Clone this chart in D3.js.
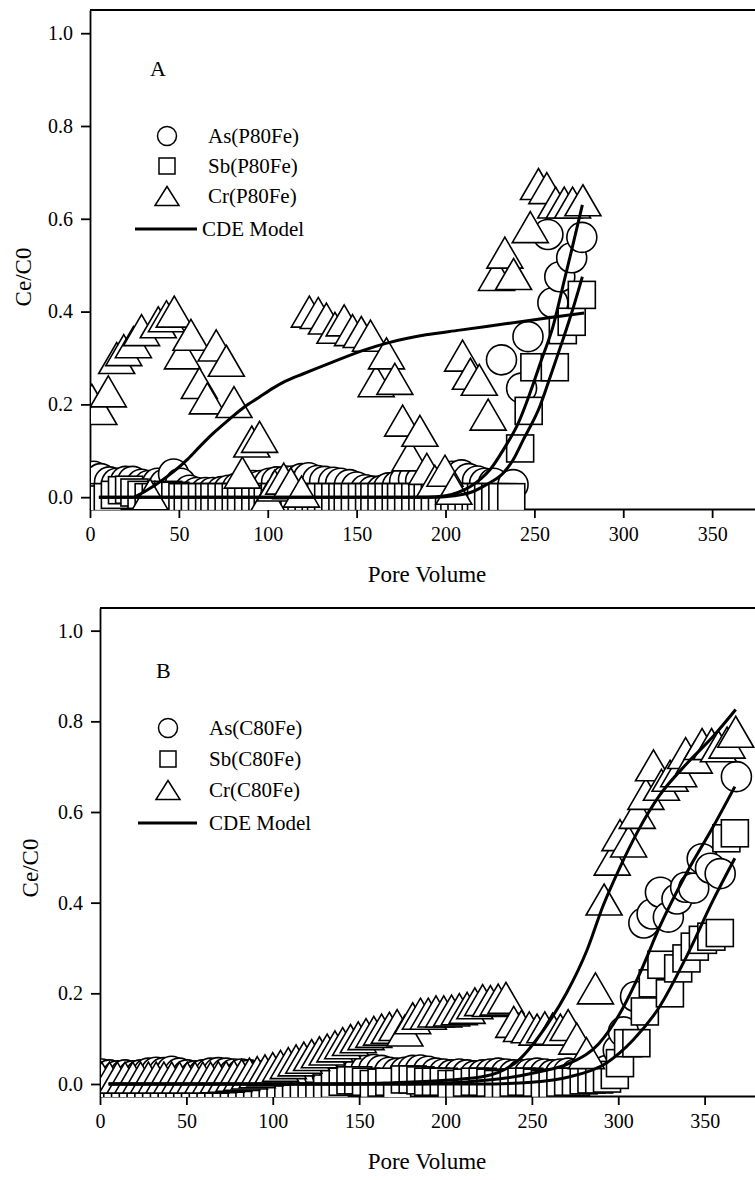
<!DOCTYPE html>
<html><head><meta charset="utf-8">
<script src="https://cdn.jsdelivr.net/npm/d3@7"></script>
<style>
html,body{margin:0;padding:0;background:#fff;}
svg{display:block;}
text{font-family:"Liberation Serif","Times New Roman",serif;fill:#000;}
</style></head><body>
<svg id="chart" width="755" height="1180" font-family="Liberation Serif, Times New Roman, serif"></svg>
<script>
// ---------- shared labels ----------
const xTicks = [0, 50, 100, 150, 200, 250, 300, 350];
const yTicks = [0, 0.2, 0.4, 0.6, 0.8, 1.0];
const xTitle = "Pore Volume";
const yTitle = "Ce/C0";
const legendA = ["As(P80Fe)", "Sb(P80Fe)", "Cr(P80Fe)", "CDE Model"];
const legendB = ["As(C80Fe)", "Sb(C80Fe)", "Cr(C80Fe)", "CDE Model"];

// ---------- panel A (P80Fe) ----------
const asP80Fe = [[2,0.045],[6,0.04],[11,0.033],[15,0.03],[20,0.034],[24,0.034],[29,0.028],[33,0.025],[38,0.03],[42,0.028],[47,0.05],[51,0.03],[56,0.015],[60,0.01],[65,0.01],[69,0.01],[74,0.012],[78,0.015],[83,0.02],[87,0.025],[92,0.025],[96,0.025],[101,0.03],[105,0.033],[110,0.035],[114,0.035],[119,0.04],[123,0.042],[128,0.036],[132,0.034],[137,0.032],[141,0.03],[146,0.027],[150,0.022],[155,0.016],[159,0.013],[164,0.014],[168,0.02],[173,0.024],[177,0.034],[182,0.038],[186,0.035],[191,0.03],[195,0.03],[200,0.035],[204,0.045],[209,0.048],[213,0.04],[218,0.035],[222,0.03],[227,0.03],[231.5,0.296],[238,0.027],[242.8,0.235],[246.4,0.346],[257.6,0.566],[260.4,0.419],[264.3,0.475],[271,0.516],[276.7,0.56]];
const sbP80Fe = [[3,0],[7,-0.005],[10,0],[14,0.005],[18,0.015],[22,0.016],[25,0.01],[29,0.005],[33,0],[37,0],[40,0],[44,0.005],[48,0.003],[52,0],[55,0],[59,0],[63,0],[67,0],[70,0],[74,0],[78,0],[82,0],[85,0],[89,0],[93,0],[97,0],[100,-0.004],[104,0],[108,0],[112,0],[115,0],[119,0],[123,0],[127,0],[130,0],[134,0],[138,0],[142,0],[145,0],[149,0],[153,0],[157,0],[160,0],[164,0],[168,0],[172,0],[175,0],[179,0],[183,0],[187,0],[190,0],[194,0],[198,0],[202,0],[205,0],[209,0],[213,0],[217,0],[220,0],[224,0],[228,0],[232,0],[237,0],[242,0.105],[246.8,0.186],[250,0.28],[261.5,0.28],[266,0.36],[271,0.378],[276.7,0.436]];
const crP80Fe = [[1,0.21],[5,0.19],[10.3,0.228],[15,0.30],[19,0.317],[24.4,0.334],[29,0.36],[33.8,0.006],[38.4,0.377],[43,0.39],[47.4,0.40],[52,0.31],[56.8,0.35],[61.5,0.246],[66,0.213],[71,0.327],[76.7,0.294],[81,0.205],[85.7,0.053],[91,0.12],[95.4,0.13],[100,0.0],[104,0.025],[109,0.04],[113,0.03],[119,0.012],[123.4,0.40],[128.4,0.397],[133,0.385],[137.8,0.365],[143,0.381],[147.7,0.36],[152.6,0.356],[157.8,0.348],[161,0.25],[166.8,0.31],[171.5,0.255],[175.9,0.165],[180,0.09],[185.6,0.143],[189.5,0.061],[194,0.035],[199.7,0.057],[204.7,0.018],[209.6,0.305],[214,0.266],[219,0.253],[224,0.178],[228.7,0.479],[233.4,0.527],[238.3,0.481],[247.7,0.582],[252.3,0.675],[257,0.666],[262,0.635],[266.8,0.635],[271.5,0.635],[277.3,0.64]];
const cdeAsP80Fe = [[5,0],[190,0],[200,0.003],[207,0.01],[214,0.023],[220,0.04],[225,0.059],[232.5,0.102],[241,0.16],[247.5,0.224],[254,0.296],[260.5,0.368],[266,0.454],[271,0.533],[277,0.63]];
const cdeSbP80Fe = [[5,0],[195,0],[205,0.003],[214,0.01],[223,0.027],[232.5,0.052],[238,0.08],[243.8,0.124],[253,0.195],[259.6,0.267],[266,0.339],[272,0.41],[277,0.475]];
const cdeCrP80Fe = [[25,0],[32,0.015],[40,0.035],[47,0.055],[55,0.082],[62,0.11],[70,0.14],[79,0.17],[87,0.195],[95,0.215],[103,0.235],[110,0.25],[120,0.266],[135,0.289],[155,0.318],[167,0.332],[189,0.35],[208,0.36],[223,0.368],[253,0.384],[278,0.397]];

// ---------- panel B (C80Fe) ----------
const asC80Fe = [[1,0.022],[5.5,0.02],[10,0.018],[14.5,0.02],[19,0.018],[23.5,0.02],[28,0.024],[32.5,0.026],[37,0.025],[41.5,0.028],[46,0.024],[50.5,0.02],[55,0.018],[59.5,0.02],[64,0.024],[68.5,0.025],[73,0.024],[77.5,0.022],[82,0.022],[86.5,0.02],[91,0.018],[95.5,0.018],[100,0.02],[104.5,0.02],[109,0.018],[113.5,0.02],[118,0.02],[122.5,0.018],[127,0.02],[131.5,0.022],[136,0.022],[140.5,0.024],[145,0.026],[149.5,0.028],[154,0.031],[158.5,0.032],[163,0.03],[167.5,0.026],[172,0.024],[176.5,0.026],[181,0.03],[185.5,0.031],[190,0.028],[194.5,0.024],[199,0.022],[203.5,0.02],[208,0.022],[212.5,0.02],[217,0.018],[221.5,0.02],[226,0.022],[230.5,0.024],[235,0.022],[239.5,0.02],[244,0.02],[248.5,0.022],[253,0.024],[257.5,0.022],[262,0.02],[266.5,0.022],[271,0.024],[275.5,0.022],[280,0.02],[284.5,0.022],[289,0.024],[293.5,0.03],[300,0.075],[303,0.115],[310,0.193],[314.8,0.355],[319.6,0.375],[324.4,0.423],[329,0.368],[334,0.408],[339,0.434],[343.7,0.432],[348.6,0.497],[353.4,0.476],[359,0.464],[368.4,0.678]];
const sbC80Fe = [[1,-0.035],[5.5,-0.035],[10,-0.035],[14.5,-0.035],[19,-0.035],[23.5,-0.035],[28,-0.035],[32.5,-0.035],[37,-0.035],[41.5,-0.035],[46,-0.035],[50.5,-0.035],[55,-0.035],[59.5,-0.035],[64,-0.035],[68.5,-0.035],[73,-0.04],[77.5,-0.04],[82,-0.042],[86.5,-0.04],[91,-0.04],[95.5,-0.038],[100,-0.036],[104.5,-0.035],[109,-0.033],[113.5,-0.032],[118,-0.03],[122.5,-0.028],[127,-0.026],[131.5,-0.01],[136,0.0],[140.5,0.005],[145,0.008],[149.5,0.008],[154,0.005],[158.5,0.0],[163,0.003],[167.5,0.005],[172,-0.03],[176.5,0.01],[181,0.01],[185.5,0.008],[190,0.005],[194.5,0.005],[199,0.005],[203.5,0.0],[208,0.0],[212.5,0.003],[217,0.005],[221.5,0.005],[226,0.003],[230.5,0.0],[235,0.0],[239.5,0.003],[244,0.005],[248.5,0.005],[253,0.003],[257.5,0.0],[262,0.0],[266.5,0.003],[271,0.005],[275.5,0.005],[280,0.008],[284.5,0.01],[289,0.01],[293.5,0.012],[298,0.02],[301,0.046],[305.7,0.09],[310.5,0.09],[315.4,0.16],[320,0.222],[325,0.263],[329.9,0.2],[334.7,0.255],[339.5,0.277],[344.3,0.303],[349,0.318],[353.9,0.325],[358.8,0.333],[362.6,0.542],[367.5,0.553]];
const crC80Fe = [[1,0.014],[5.5,0.014],[10,0.014],[14.5,0.014],[19,0.014],[23.5,0.014],[28,0.014],[32.5,0.014],[37,0.014],[41.5,0.014],[46,0.014],[50.5,0.014],[55,0.014],[59.5,0.014],[64,0.014],[68.5,0.015],[73,0.016],[77.5,0.018],[82,0.02],[86.5,0.023],[91,0.026],[95.5,0.03],[100,0.035],[104.5,0.04],[109,0.046],[113.5,0.052],[118,0.058],[122.5,0.064],[127,0.07],[131.5,0.076],[136,0.083],[140.5,0.09],[145,0.097],[149.5,0.103],[154,0.11],[158.5,0.115],[163,0.12],[167.5,0.124],[172,0.13],[176.5,0.118],[181,0.145],[185.5,0.155],[190,0.155],[194.5,0.16],[199,0.16],[203.5,0.162],[208,0.165],[212.5,0.168],[217,0.178],[221.5,0.185],[226,0.183],[230.5,0.186],[235,0.19],[239.5,0.137],[244,0.128],[248.5,0.125],[253,0.12],[257.5,0.125],[262,0.122],[266.5,0.12],[271,0.13],[276,0.1],[281.6,0.068],[286.8,0.211],[291.8,0.407],[296.5,0.495],[301,0.549],[306,0.535],[311,0.598],[316,0.64],[320.4,0.703],[325,0.66],[330,0.68],[335,0.69],[339,0.73],[344,0.72],[348.5,0.75],[354,0.75],[358,0.745],[363,0.753],[368,0.777]];
const cdeAsC80Fe = [[5,0],[180,0],[210,0.004],[235,0.013],[253,0.026],[272,0.046],[289,0.09],[301,0.156],[312.5,0.244],[324,0.347],[339.5,0.465],[355,0.568],[367.5,0.656]];
const cdeSbC80Fe = [[5,0],[220,0],[250,0.004],[272,0.016],[293,0.046],[308.6,0.097],[324,0.171],[339.5,0.281],[355,0.406],[367.5,0.498]];
const cdeCrC80Fe = [[5,0],[140,0],[170,0.003],[200,0.008],[224,0.018],[243,0.055],[258,0.126],[270,0.2],[282,0.296],[291,0.391],[301,0.478],[311,0.555],[324,0.637],[340,0.708],[355,0.767],[368,0.826]];

// ---------- drawing ----------
const FONT = "Liberation Serif, Times New Roman, serif";
const svg = d3.select('#chart');
svg.append('rect').attr('width', 755).attr('height', 1180).attr('fill', '#fff');
const defs = svg.append('defs');

const MK = {circleR: 15, square: 27, triB: 36, triH: 31};
function triPath(cx, cy, b, h) {
  return `M${cx},${cy - h / 2}L${cx + b / 2},${cy + h / 2}L${cx - b / 2},${cy + h / 2}Z`;
}

function drawPanel(p) {
  const g = svg.append('g');
  const x = d3.scaleLinear().domain([0, 400]).range(p.xRange);
  const y = d3.scaleLinear().domain(p.yDomain).range(p.yRange);
  const [xl, xr] = p.xRange;
  const [yb, yt] = p.yRange;

  // frame (top)
  g.append('line').attr('x1', xl).attr('x2', xr).attr('y1', yt).attr('y2', yt)
    .attr('stroke', '#000').attr('stroke-width', 1.8);

  const gx = g.append('g').attr('transform', `translate(0,${yb})`)
    .call(d3.axisBottom(x).tickValues(xTicks).tickSize(9).tickSizeOuter(0).tickPadding(9).tickFormat(d3.format('d')));
  const gy = g.append('g').attr('transform', `translate(${xl},0)`)
    .call(d3.axisLeft(y).tickValues(yTicks).tickSize(9).tickSizeOuter(0).tickPadding(8).tickFormat(d3.format('.1f')));
  [gx, gy].forEach(a => {
    a.attr('font-family', FONT).attr('font-size', 20);
    a.selectAll('path,line').attr('stroke', '#000').attr('stroke-width', 1.8);
    a.selectAll('text').attr('font-family', FONT).attr('font-size', 20).attr('fill', '#000');
  });

  // titles
  g.append('text').attr('x', p.xTitlePos[0]).attr('y', p.xTitlePos[1])
    .attr('text-anchor', 'middle').attr('font-family', FONT).attr('font-size', 23).text(xTitle);
  g.append('text').attr('transform', `translate(${p.yTitlePos[0]},${p.yTitlePos[1]}) rotate(-90)`)
    .attr('text-anchor', 'middle').attr('dy', '0.35em').attr('font-family', FONT).attr('font-size', 23).text(yTitle);
  g.append('text').attr('x', p.letterPos[0]).attr('y', p.letterPos[1])
    .attr('font-family', FONT).attr('font-size', 22).text(p.letter);

  // clip
  defs.append('clipPath').attr('id', 'clip' + p.letter).append('rect')
    .attr('x', xl + 1).attr('y', yt + 1).attr('width', xr - xl).attr('height', yb - yt);
  const plot = g.append('g').attr('clip-path', `url(#clip${p.letter})`);

  const mStyle = sel => sel.attr('fill', '#fff').attr('stroke', '#000').attr('stroke-width', 1.6);

  mStyle(plot.append('g').selectAll('circle').data(p.as).join('circle')
    .attr('cx', d => x(d[0])).attr('cy', d => y(d[1])).attr('r', MK.circleR));
  mStyle(plot.append('g').selectAll('rect').data(p.sb).join('rect')
    .attr('x', d => x(d[0]) - MK.square / 2).attr('y', d => y(d[1]) - MK.square / 2)
    .attr('width', MK.square).attr('height', MK.square));
  mStyle(plot.append('g').selectAll('path').data(p.cr).join('path')
    .attr('d', d => triPath(x(d[0]), y(d[1]), MK.triB, MK.triH)));

  const line = d3.line().x(d => x(d[0])).y(d => y(d[1])).curve(d3.curveMonotoneX);
  plot.append('g').selectAll('path').data(p.models).join('path')
    .attr('d', line).attr('fill', 'none').attr('stroke', '#000').attr('stroke-width', 3);

  // legend
  const L = p.legend;
  const lg = g.append('g');
  lg.append('circle').attr('cx', L.symX).attr('cy', L.rows[0]).attr('r', 9.5)
    .attr('fill', '#fff').attr('stroke', '#000').attr('stroke-width', 1.5);
  lg.append('rect').attr('x', L.symX - 8).attr('y', L.rows[1] - 8).attr('width', 16).attr('height', 16)
    .attr('fill', '#fff').attr('stroke', '#000').attr('stroke-width', 1.5);
  lg.append('path').attr('d', triPath(L.symX, L.rows[2], 24, 19))
    .attr('fill', '#fff').attr('stroke', '#000').attr('stroke-width', 1.5);
  lg.append('line').attr('x1', L.lineX[0]).attr('x2', L.lineX[1]).attr('y1', L.rows[3]).attr('y2', L.rows[3])
    .attr('stroke', '#000').attr('stroke-width', 3);
  p.names.forEach((t, i) => {
    lg.append('text').attr('x', i < 3 ? L.textX : L.lineTextX).attr('y', L.rows[i])
      .attr('dy', '0.33em').attr('font-family', FONT).attr('font-size', 21).text(t);
  });
}

drawPanel({
  letter: 'A', xRange: [90, 801], yDomain: [-0.0255, 1.05], yRange: [509, 10],
  xTitlePos: [427, 582], yTitlePos: [23, 277], letterPos: [150, 76],
  as: asP80Fe, sb: sbP80Fe, cr: crP80Fe, models: [cdeCrP80Fe, cdeAsP80Fe, cdeSbP80Fe],
  names: legendA,
  legend: {symX: 167, rows: [136, 166, 196, 229], textX: 208, lineX: [135, 197], lineTextX: 202}
});
drawPanel({
  letter: 'B', xRange: [100, 791], yDomain: [-0.0265, 1.05], yRange: [1096, 608],
  xTitlePos: [427, 1169], yTitlePos: [30, 868], letterPos: [156, 678],
  as: asC80Fe, sb: sbC80Fe, cr: crC80Fe, models: [cdeCrC80Fe, cdeAsC80Fe, cdeSbC80Fe],
  names: legendB,
  legend: {symX: 168, rows: [728, 759, 790, 823], textX: 209, lineX: [138, 197], lineTextX: 209}
});
</script>
</body></html>
